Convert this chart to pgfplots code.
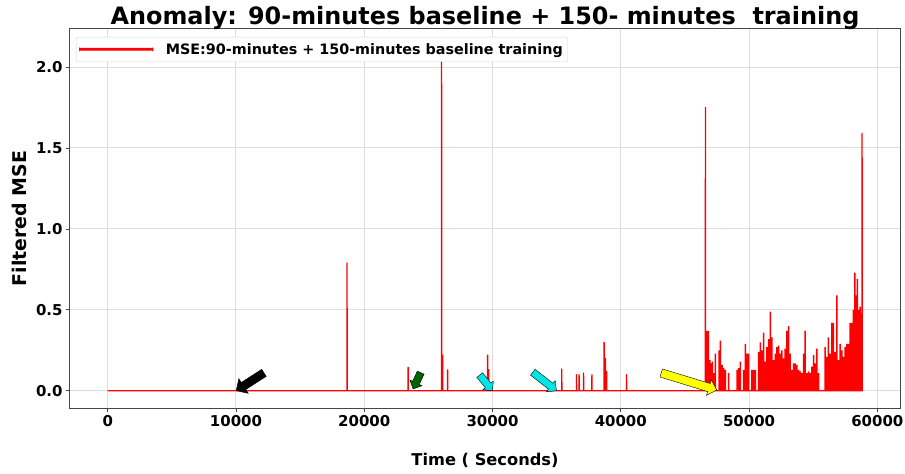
\documentclass[border=0pt]{standalone}
\usepackage{pgfplots}
\pgfplotsset{compat=1.18}
\usepackage{fontspec}
\setmainfont{DejaVu Sans}
\newfontfamily\bfont{DejaVu Sans Bold}
\usetikzlibrary{shapes.arrows}
\definecolor{gridc}{RGB}{220,220,220}
\definecolor{spinec}{RGB}{70,70,70}
\definecolor{legc}{RGB}{215,215,215}
\definecolor{linered}{RGB}{255,0,0}
\definecolor{arrgreen}{RGB}{0,100,0}
\definecolor{arrcyan}{RGB}{0,230,230}
\definecolor{arryellow}{RGB}{255,255,0}
\begin{document}
\begin{tikzpicture}
\begin{axis}[
  scale only axis,
  width=830bp, height=379bp,
  xmin=-2940, xmax=61770,
  ymin=-0.106, ymax=2.235,
  xtick={0,10000,20000,30000,40000,50000,60000},
  ytick={0,0.5,1,1.5,2},
  /pgf/number format/assume math mode=true,
  xticklabel style={/pgf/number format/1000 sep={}, font=\bfont\fontsize{15}{15}\selectfont},
  yticklabel style={/pgf/number format/fixed, /pgf/number format/fixed zerofill, /pgf/number format/precision=1, font=\bfont\fontsize{15}{15}\selectfont},
  scaled x ticks=false,
  tick pos=left,
  tick align=outside,
  major tick length=4bp,
  tick style={spinec, line width=0.8bp},
  axis line style={spinec, line width=1bp},
  grid=major,
  grid style={gridc, line width=1bp},
  title={Anomaly: 90-minutes baseline + 150- minutes\ \ training},
  title style={font=\bfont\fontsize{24}{24}\selectfont, at={(0.5,1)}, anchor=base, yshift=-1.5bp},
  xlabel={Time ( Seconds)},
  xlabel style={font=\bfont\fontsize{16.3}{16.3}\selectfont, yshift=-19bp},
  ylabel={Filtered MSE},
  ylabel style={font=\bfont\fontsize{19}{19}\selectfont, yshift=2bp},
  legend style={at={(0.0072,0.979)}, anchor=north west, draw=legc, rounded corners=2bp, font=\bfont\fontsize{14.4}{15}\selectfont, inner xsep=3bp, inner ysep=4bp, fill=white},
  legend cell align=left,
  legend image code/.code={\fill[linered] (0bp,-0.7bp) rectangle (73bp,0.7bp); \path[draw=none] (84bp,0bp);},
]
\addplot[linered, line width=1.3bp, line join=round] coordinates {
(0,0) (18650,0) (18660,0.79) (18670,0)
(23410,0) (23420,0.145) (23430,0)
(26020,0) (26030,2.10) (26040,0) (26100,0) (26110,0.22) (26120,0)
(26490,0) (26500,0.13) (26510,0)
(29610,0) (29620,0.22) (29630,0) (29690,0) (29700,0.13) (29710,0)
(35390,0) (35400,0.135) (35410,0)
(36540,0) (36550,0.10) (36560,0) (36740,0) (36750,0.10) (36760,0)
(37090,0) (37100,0.11) (37110,0) (37740,0) (37750,0.10) (37760,0)
(38690,0) (38700,0.30) (38710,0) (38790,0) (38800,0.20) (38810,0)
(38890,0) (38900,0.12) (38910,0)
(40440,0) (40450,0.10) (40460,0)
(46590,0) (46600,1.75) (46610,0)
(58800,0) (58813,1.59) (58826,0) (58865,0)
};
\addlegendentry{MSE:90-minutes + 150-minutes baseline training}
% dense region
\addplot[ybar, bar width=118, fill=linered, draw=none, forget plot] coordinates {
(46700,0.37) (46830,0.37) (46937,0.19) (47041,0.17) (47144,0.18)
(47248,0.11) (47378,0.23) (47663,0.25) (47767,0.31) (47896,0.16) (48026,0.14)
(48156,0.13) (48415,0.11) (49063,0.13) (49193,0.14) (49323,0.18) (49582,0.13)
(49711,0.29) (49841,0.23) (49971,0.23) (50230,0.13) (50360,0.13) (50489,0.13)
(50749,0.24) (50878,0.30) (51008,0.25) (51138,0.36) (51267,0.18) (51397,0.27)
(51527,0.32) (51656,0.49) (51786,0.33) (51916,0.19) (52045,0.23) (52175,0.27)
(52304,0.28) (52434,0.23) (52564,0.25) (52693,0.20) (52823,0.26) (52953,0.37)
(53082,0.40) (53212,0.23) (53342,0.13) (53471,0.17) (53601,0.17) (53731,0.16)
(53860,0.13) (53990,0.12) (54120,0.11) (54249,0.23) (54379,0.37) (54508,0.11)
(54638,0.12) (54768,0.11) (54897,0.15) (55027,0.22) (55157,0.17) (55286,0.26)
(55416,0.11) (55935,0.27) (56064,0.21) (56194,0.33) (56324,0.23) (56453,0.42)
(56583,0.42) (56713,0.24) (56842,0.59) (56972,0.19) (57102,0.29) (57231,0.25)
(57361,0.21) (57490,0.27) (57620,0.29) (57750,0.29) (57879,0.42) (58009,0.42)
(58139,0.50) (58242,0.73) (58346,0.59) (58450,0.69) (58553,0.50) (58657,0.52)
(58735,0.48)
};
% annotation arrows
\node[single arrow, draw=black, fill=black, inner sep=4bp, single arrow head extend=4.5bp, minimum height=33bp, rotate=212.7, anchor=tip] at (axis cs:10000,0) {};
\node[single arrow, draw=black, fill=arrgreen, inner sep=3.5bp, single arrow head extend=3bp, minimum height=18bp, rotate=245, anchor=tip] at (axis cs:23800,0.01) {};
\node[single arrow, draw=black, fill=arrcyan, inner sep=3.5bp, single arrow head extend=3bp, minimum height=20bp, rotate=-51, anchor=tip] at (axis cs:30000,0) {};
\node[single arrow, draw=black, fill=arrcyan, inner sep=3.5bp, single arrow head extend=3.5bp, minimum height=30bp, rotate=-38, anchor=tip] at (axis cs:35000,0) {};
\node[single arrow, draw=black, fill=arryellow, inner sep=4bp, single arrow head extend=4bp, minimum height=58bp, rotate=-17, anchor=tip] at (axis cs:47500,0.005) {};
\end{axis}
\pgfresetboundingbox
\path ([xshift=-70bp,yshift=-66bp]current axis.south west) rectangle ([xshift=5bp,yshift=29bp]current axis.north east);
\end{tikzpicture}
\end{document}
